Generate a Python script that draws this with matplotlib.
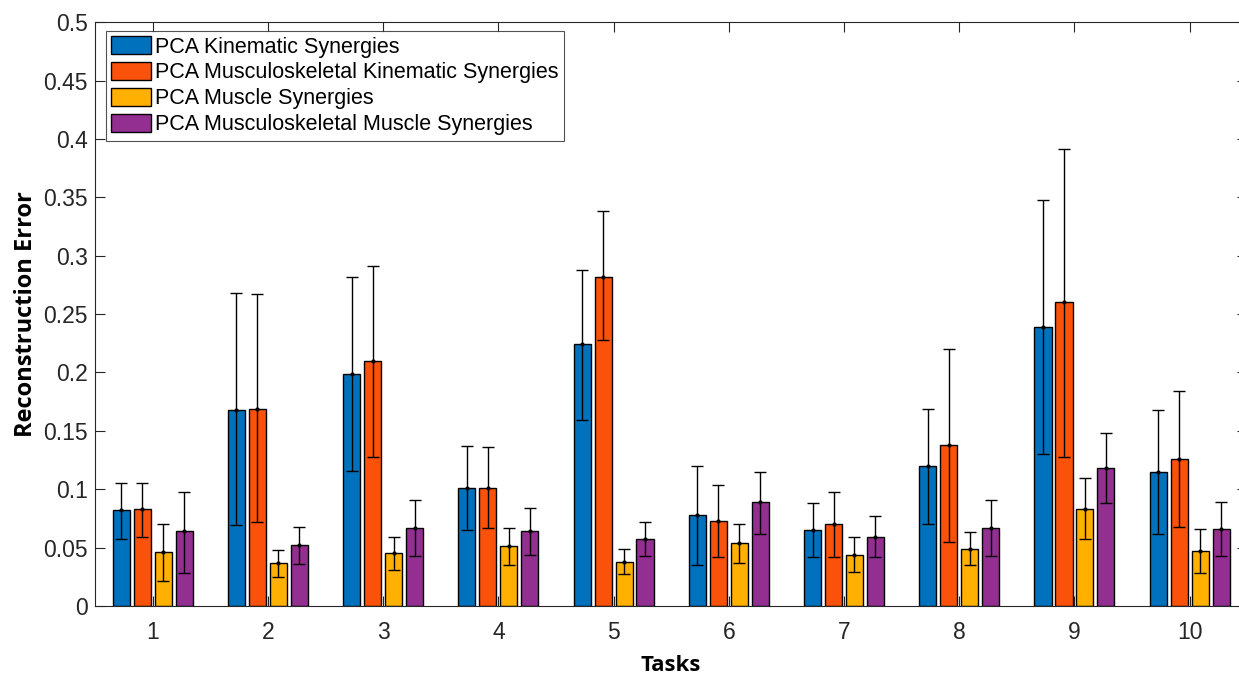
import matplotlib.pyplot as plt
import numpy as np

plt.rcParams['font.family'] = ['Liberation Sans', 'DejaVu Sans']

tasks = [1, 2, 3, 4, 5, 6, 7, 8, 9, 10]
series = ['PCA Kinematic Synergies',
          'PCA Musculoskeletal Kinematic Synergies',
          'PCA Muscle Synergies',
          'PCA Musculoskeletal Muscle Synergies']
colors = ['#0072BD', '#FA520A', '#FFB000', '#922F90']

# mean values
kin      = [0.082, 0.168, 0.199, 0.101, 0.224, 0.078, 0.065, 0.120, 0.239, 0.115]
ms_kin   = [0.083, 0.169, 0.210, 0.101, 0.282, 0.073, 0.070, 0.138, 0.260, 0.126]
mus      = [0.046, 0.037, 0.045, 0.051, 0.038, 0.054, 0.044, 0.049, 0.083, 0.047]
ms_mus   = [0.064, 0.052, 0.067, 0.064, 0.057, 0.089, 0.059, 0.067, 0.118, 0.066]

# error bar ends (upper, lower)
kin_hi    = [0.105, 0.268, 0.282, 0.137, 0.288, 0.120, 0.088, 0.169, 0.348, 0.168]
kin_lo    = [0.057, 0.069, 0.116, 0.065, 0.159, 0.035, 0.042, 0.070, 0.130, 0.062]
ms_kin_hi = [0.105, 0.267, 0.291, 0.136, 0.338, 0.104, 0.098, 0.220, 0.391, 0.184]
ms_kin_lo = [0.059, 0.072, 0.128, 0.067, 0.228, 0.042, 0.042, 0.055, 0.128, 0.068]
mus_hi    = [0.070, 0.048, 0.059, 0.067, 0.049, 0.070, 0.059, 0.063, 0.110, 0.066]
mus_lo    = [0.021, 0.025, 0.031, 0.035, 0.027, 0.037, 0.029, 0.035, 0.057, 0.028]
ms_mus_hi = [0.098, 0.068, 0.091, 0.084, 0.072, 0.115, 0.077, 0.091, 0.148, 0.089]
ms_mus_lo = [0.028, 0.036, 0.043, 0.044, 0.043, 0.062, 0.042, 0.043, 0.088, 0.043]

means = [kin, ms_kin, mus, ms_mus]
highs = [kin_hi, ms_kin_hi, mus_hi, ms_mus_hi]
lows = [kin_lo, ms_kin_lo, mus_lo, ms_mus_lo]

fig = plt.figure(figsize=(12.39, 6.75), dpi=100)
ax = fig.add_axes([0.0767, 0.1022, 0.930, 0.865])

x = np.array(tasks)
step = 0.182
width = 0.148
for i in range(4):
    pos = x + (i - 1.5) * step
    m = np.array(means[i])
    yerr = [m - np.array(lows[i]), np.array(highs[i]) - m]
    ax.bar(pos, m, width, color=colors[i], edgecolor='black', linewidth=1,
           label=series[i], zorder=2)
    ax.errorbar(pos, m, yerr=yerr, fmt='.', color='black', markersize=4,
                elinewidth=1, capsize=4, capthick=1, zorder=3)

ax.set_xlim(0.5, 10.5)
ax.set_ylim(0, 0.5)
ax.set_xticks(tasks)
ax.set_yticks(np.arange(0, 0.501, 0.05))
ax.set_yticklabels(['0', '0.05', '0.1', '0.15', '0.2', '0.25', '0.3', '0.35',
                    '0.4', '0.45', '0.5'])
ax.tick_params(direction='in', length=7, width=0.8, labelsize=16.5, colors='#262626',
               top=True, right=True)
ax.tick_params(axis='x', pad=11)
ax.tick_params(axis='y', pad=5)
for s in ax.spines.values():
    s.set_color('#262626')
    s.set_linewidth(0.8)

ax.set_xlabel('Tasks', fontsize=16, fontweight='bold', family='Open Sans', labelpad=8)
ax.set_ylabel('Reconstruction Error', fontsize=17, fontweight='bold',
              family='Open Sans', labelpad=4)

leg = ax.legend(loc='upper left', bbox_to_anchor=(0.0095, 0.985), fontsize=15.5,
                frameon=True, fancybox=False, edgecolor='#262626',
                handlelength=1.86, handleheight=0.88, handletextpad=0.15,
                labelspacing=0.22, borderpad=0.25, borderaxespad=0.0)
leg.get_frame().set_linewidth(0.8)

fig.savefig('out.png', dpi=100)
